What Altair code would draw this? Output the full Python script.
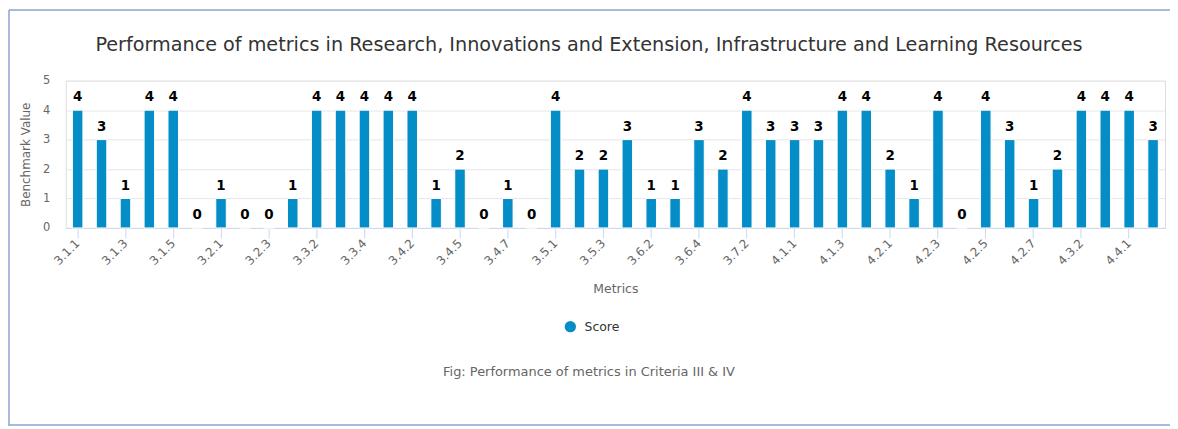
import altair as alt
import pandas as pd

categories = [
    "3.1.1", "3.1.2", "3.1.3", "3.1.4", "3.1.5", "3.1.6", "3.2.1", "3.2.2", "3.2.3", "3.3.1",
    "3.3.2", "3.3.3", "3.3.4", "3.4.1", "3.4.2", "3.4.3", "3.4.5", "3.4.6", "3.4.7", "3.4.8",
    "3.5.1", "3.5.2", "3.5.3", "3.6.1", "3.6.2", "3.6.3", "3.6.4", "3.7.1", "3.7.2", "3.7.3",
    "4.1.1", "4.1.2", "4.1.3", "4.1.4", "4.2.1", "4.2.2", "4.2.3", "4.2.4", "4.2.5", "4.2.6",
    "4.2.7", "4.3.1", "4.3.2", "4.3.3", "4.4.1", "4.4.2",
]
scores = [
    4, 3, 1, 4, 4, 0, 1, 0, 0, 1,
    4, 4, 4, 4, 4, 1, 2, 0, 1, 0,
    4, 2, 2, 3, 1, 1, 3, 2, 4, 3,
    3, 3, 4, 4, 2, 1, 4, 0, 4, 3,
    1, 2, 4, 4, 4, 3,
]
series_name = "Score"
tick_labels = categories[::2]
y_ticks = [0, 1, 2, 3, 4, 5]
title_text = ("Performance of metrics in Research, Innovations and Extension, "
              "Infrastructure and Learning Resources")
caption_text = "Fig: Performance of metrics in Criteria III & IV"

df = pd.DataFrame({"Metric": categories, "Value": scores, "Series": series_name})

FONT = "DejaVu Sans"
W, H = 1105, 148
PAD_L, PAD_T = 58, 72

x_enc = alt.X(
    "Metric:N", sort=None,
    scale=alt.Scale(paddingInner=0.56, paddingOuter=0.28),
    axis=alt.Axis(
        values=tick_labels, labelAngle=-45, labelAlign="right", labelBaseline="middle",
        tickSize=10, tickColor="#ccd6eb", domainColor="#ccd6eb", labelColor="#666666",
        labelFontSize=12, labelFont=FONT, labelPadding=3, grid=False, labelOverlap=False,
        title="Metrics", titleColor="#666666", titleFontSize=12.5, titleFont=FONT,
        titleFontWeight="normal", titlePadding=16,
    ),
)
y_enc = alt.Y(
    "Value:Q",
    scale=alt.Scale(domain=[0, 5], nice=False, zero=True),
    axis=alt.Axis(
        values=y_ticks, tickCount=6, grid=True, gridColor="#e6e6e6", domain=False,
        ticks=False, labelOverlap=False, labelColor="#666666", labelFontSize=11.5,
        labelFont=FONT, labelPadding=16,
        title="Benchmark Value", titleColor="#666666", titleFontSize=12, titleFont=FONT,
        titleFontWeight="normal", titlePadding=10,
    ),
)

bars = alt.Chart(df).mark_bar(stroke="white", strokeWidth=1).encode(
    x=x_enc, y=y_enc,
    color=alt.Color(
        "Series:N", scale=alt.Scale(range=["#058dc7"]),
        legend=alt.Legend(
            title=None, orient="none", legendX=501, legendY=241, symbolType="circle",
            symbolSize=130, symbolStrokeWidth=0, labelFont=FONT, labelFontSize=12.5,
            labelColor="#333333", padding=0, labelOffset=8,
        ),
    ),
)

labels = alt.Chart(df).mark_text(
    dy=-13, fontWeight="bold", fontSize=13.5, font=FONT, color="black"
).encode(x=x_enc, y=y_enc, text="Value:Q")

title = alt.Chart(pd.DataFrame({"t": [title_text]})).mark_text(
    font=FONT, fontSize=19.3, color="#333333", align="center", baseline="middle"
).encode(text="t:N", x=alt.value(526), y=alt.value(-36))

caption = alt.Chart(pd.DataFrame({"t": [caption_text]})).mark_text(
    font=FONT, fontSize=13, color="#666666", align="center", baseline="middle"
).encode(text="t:N", x=alt.value(526), y=alt.value(293))

border_color = "#8ea3cf"
border_top = alt.Chart(pd.DataFrame({"k": ["top"]})).mark_rule(
    color=border_color, strokeWidth=1.5
).encode(
    x=alt.value(-PAD_L + 1), x2=alt.value(W + 15), y=alt.value(-PAD_T + 1)
)
border_left = alt.Chart(pd.DataFrame({"k": ["left"]})).mark_rule(
    color=border_color, strokeWidth=1.5
).encode(
    x=alt.value(-PAD_L + 1), y=alt.value(-PAD_T + 1), y2=alt.value(H + 199)
)
border_bottom = alt.Chart(pd.DataFrame({"k": ["bottom"]})).mark_rule(
    color=border_color, strokeWidth=1.5
).encode(
    x=alt.value(-PAD_L + 1), x2=alt.value(W + 15), y=alt.value(H + 198)
)

chart = alt.layer(bars, labels, title, caption, border_top, border_left, border_bottom).properties(
    width=W, height=H,
    autosize=alt.AutoSizeParams(type="none"),
    padding={"left": PAD_L, "top": PAD_T, "right": 5, "bottom": 200},
).configure_view(stroke=None).configure(background="white")

chart.save("out.html", embed_options={"renderer": "svg", "actions": False})
